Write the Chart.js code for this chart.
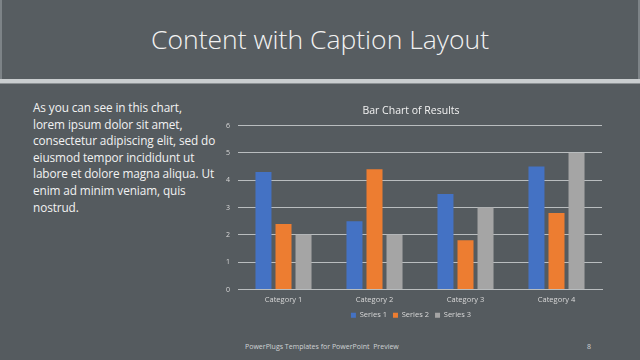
<!DOCTYPE html>
<html>
<head>
<meta charset="utf-8">
<script src="https://cdn.jsdelivr.net/npm/chart.js@4.4.0/dist/chart.umd.min.js"></script>
<style>
  html,body{margin:0;padding:0;}
  body{width:640px;height:360px;background:#555b5f;position:relative;overflow:hidden;font-family:"Open Sans",sans-serif;}
  #band{position:absolute;left:0;top:0;width:640px;height:79px;background:#575d61;border-left:2px solid #7d8387;border-right:2px solid #7d8387;box-sizing:border-box;}
  #rule{position:absolute;left:0;top:79px;width:640px;height:4px;background:#c9cdcf;border-bottom:1px solid #8c9194;}
  #title{position:absolute;left:0;top:21px;width:640px;text-align:center;color:#f2f2f2;font-family:"Open Sans",sans-serif;font-weight:300;font-size:26.5px;line-height:36px;}
  #caption{position:absolute;left:33px;top:99px;width:200px;color:#f2f2f2;font-family:"Open Sans",sans-serif;font-size:11.8px;line-height:16.6px;white-space:nowrap;letter-spacing:-0.1px;}
  #footer{position:absolute;left:245px;top:342px;color:#d0d3d5;font-size:7px;font-family:"Open Sans",sans-serif;}
  #page{position:absolute;left:587px;top:342px;color:#d0d3d5;font-size:7px;font-family:"Open Sans",sans-serif;}
  #wrap{position:absolute;left:220px;top:100px;width:400px;height:229px;}
</style>
</head>
<body>
<div id="band"></div>
<div id="rule"></div>
<div id="title">Content with Caption Layout</div>
<div id="caption">As you can see in this chart,<br>lorem ipsum dolor sit amet,<br>consectetur adipiscing elit, sed do<br>eiusmod tempor incididunt ut<br>labore et dolore magna aliqua. Ut<br>enim ad minim veniam, quis<br>nostrud.</div>
<div id="wrap"><canvas id="c"></canvas></div>
<div id="footer">PowerPlugs Templates for PowerPoint&nbsp; Preview</div>
<div id="page">8</div>
<script>
const categories = ["Category 1", "Category 2", "Category 3", "Category 4"];
const series1 = [4.3, 2.5, 3.5, 4.5];
const series2 = [2.4, 4.4, 1.8, 2.8];
const series3 = [2, 2, 3, 5];
const seriesNames = ["Series 1", "Series 2", "Series 3"];
const yTicks = [0, 1, 2, 3, 4, 5, 6];

const txt = "#d9d9d9";
new Chart(document.getElementById("c"), {
  type: "bar",
  data: {
    labels: categories,
    datasets: [
      {label: seriesNames[0], data: series1, backgroundColor: "#4472C4"},
      {label: seriesNames[1], data: series2, backgroundColor: "#ED7D31"},
      {label: seriesNames[2], data: series3, backgroundColor: "#A5A5A5"}
    ]
  },
  options: {
    responsive: true,
    maintainAspectRatio: false,
    animation: false,
    categoryPercentage: 0.66,
    barPercentage: 0.8,
    layout: {padding: {left: 0, right: 18, top: 0, bottom: 0}},
    plugins: {
      title: {display: true, text: "Bar Chart of Results", color: "#f2f2f2",
        font: {family: "Open Sans", size: 10.5, weight: "normal"}, padding: {top: 5, bottom: 8}},
      legend: {position: "bottom", labels: {color: txt, boxWidth: 5, boxHeight: 5,
        font: {family: "Open Sans", size: 7.5}, padding: 6}},
      tooltip: {enabled: false}
    },
    scales: {
      x: {grid: {display: false, drawTicks: false}, border: {color: "#b9bdbf", width: 1},
        ticks: {color: txt, font: {family: "Open Sans", size: 7.5}, padding: 6},
        afterFit: s => { s.height = 16; }},
      y: {min: 0, max: 6, afterBuildTicks: s => { s.ticks = yTicks.map(v => ({value: v})); },
        grid: {color: "#b9bdbf", drawTicks: false, lineWidth: 1},
        border: {display: false},
        ticks: {color: txt, font: {family: "Open Sans", size: 7}, padding: 8},
        afterFit: s => { s.width = 18; }}
    }
  }
});
</script>
</body>
</html>
